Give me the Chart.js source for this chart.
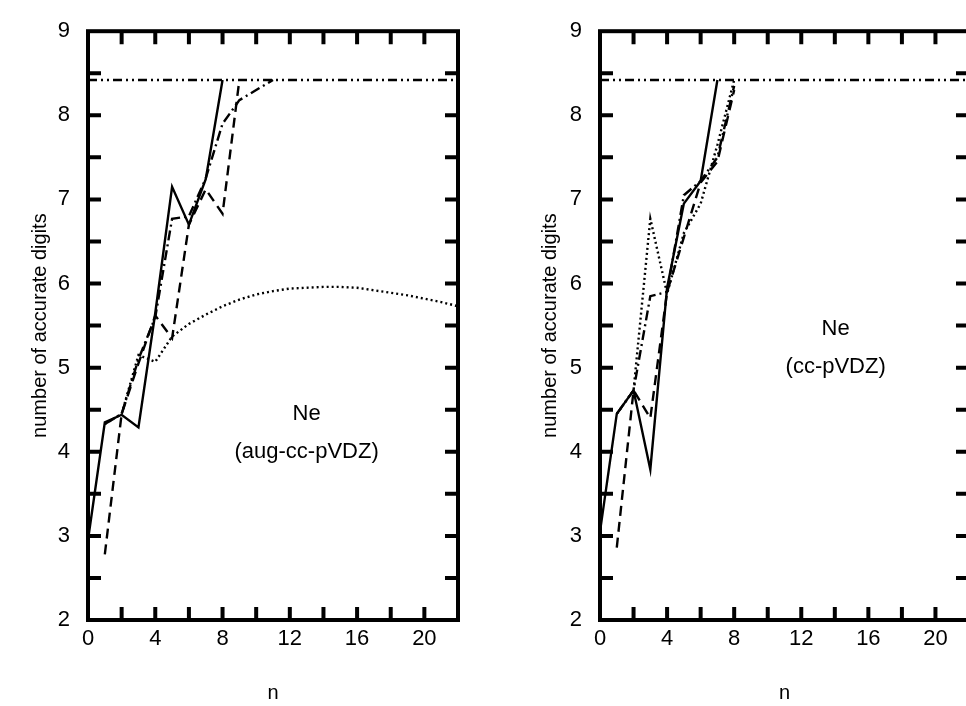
<!DOCTYPE html>
<html>
<head>
<meta charset="utf-8">
<script src="https://cdn.jsdelivr.net/npm/chart.js@4.4.1/dist/chart.umd.min.js"></script>
<style>
html, body { margin: 0; padding: 0; background: #fff; overflow: hidden; width: 966px; height: 706px; }
canvas { position: absolute; top: 0; }
#left { left: 0; }
#right { left: 483px; }
</style>
</head>
<body>
<canvas id="left" width="483" height="706"></canvas>
<canvas id="right" width="500" height="706"></canvas>
<script>
// index of each array = n (0, 1, 2, ...), null = no point
const exactDigits = 8.42;

// aug-cc-pVDZ panel
const augSolid   = [2.95, 4.35, 4.44, 4.29, 5.65, 7.15, 6.7, 7.24, 8.42];
const augDashed  = [null, 2.78, 4.45, 5.05, 5.62, 5.35, 6.7, 7.12, 6.83, 8.42];
const augDashDot = [null, 4.33, 4.45, 5.1, 5.6, 6.77, 6.8, 7.25, 7.9, 8.18, 8.3, 8.42];
const augDotted  = [null, 4.33, 4.45, 5.15, 5.07, 5.37, 5.52, 5.63, 5.73, 5.81, 5.87, 5.91,
                    5.94, 5.95, 5.96, 5.96, 5.95, 5.92, 5.89, 5.86, 5.82, 5.78, 5.73];

// cc-pVDZ panel
const ccSolid   = [3.05, 4.45, 4.73, 3.79, 5.95, 6.95, 7.22, 8.42];
const ccDashed  = [null, 2.86, 4.73, 4.4, 5.9, 6.55, 7.2, 7.45, 8.3];
const ccDashDot = [null, 4.45, 4.73, 5.85, 5.9, 7.05, 7.22, 7.5, 8.35];
const ccDotted  = [null, 4.45, 4.73, 6.77, 5.88, 6.6, 6.95, 7.65, 8.42];

const xTickLabels = ["0", "4", "8", "12", "16", "20"];
const yTickLabels = ["2", "3", "4", "5", "6", "7", "8", "9"];

const FONT = "'Liberation Sans', Arial, Helvetica, sans-serif";

function toPoints(vals) {
  return vals.map((v, n) => ({ x: n, y: v })).filter(p => p.y !== null);
}

function line(points, dash) {
  return {
    data: points,
    borderColor: '#000',
    borderWidth: 2.4,
    borderDash: dash,
    pointRadius: 0,
    tension: 0,
    fill: false
  };
}

// frame + inward ticks on all four sides, and the text inside the plot
const framePlugin = {
  id: 'frame',
  afterDraw(chart, args, opts) {
    const { ctx, chartArea: a, scales: { x, y } } = chart;
    ctx.save();
    ctx.strokeStyle = '#000';
    ctx.lineWidth = 4;
    ctx.strokeRect(a.left, a.top, a.right - a.left, a.bottom - a.top);
    ctx.beginPath();
    for (let v = 2; v <= 20; v += 2) {
      const px = x.getPixelForValue(v);
      ctx.moveTo(px, a.bottom); ctx.lineTo(px, a.bottom - 13);
      ctx.moveTo(px, a.top); ctx.lineTo(px, a.top + 13);
    }
    for (let v = 2.5; v < 9; v += 0.5) {
      const py = y.getPixelForValue(v);
      ctx.moveTo(a.left, py); ctx.lineTo(a.left + 13, py);
      ctx.moveTo(a.right, py); ctx.lineTo(a.right - 13, py);
    }
    ctx.stroke();
    ctx.fillStyle = '#000';
    ctx.font = '22px ' + FONT;
    ctx.textAlign = 'center';
    ctx.textBaseline = 'middle';
    ctx.fillText('Ne', x.getPixelForValue(opts.at[0]), y.getPixelForValue(opts.at[1]));
    ctx.fillText(opts.basis, x.getPixelForValue(opts.at[0]), y.getPixelForValue(opts.at[1] - 0.45));
    ctx.restore();
  }
};

function makeChart(id, series, basis, at, padRight, yWidth, yTitlePad) {
  const sets = [
    line(toPoints(series[0]), []),
    line(toPoints(series[1]), [10, 6]),
    line(toPoints(series[2]), [10, 4, 2, 4]),
    line(toPoints(series[3]), [2, 3]),
    line([{ x: 0, y: exactDigits }, { x: 22, y: exactDigits }], [9, 4, 2, 4, 2, 4])
  ];
  return new Chart(document.getElementById(id), {
    type: 'line',
    data: { datasets: sets },
    options: {
      responsive: false,
      animation: false,
      devicePixelRatio: 1,
      layout: { padding: { top: 21, right: padRight, left: 0, bottom: 0 } },
      plugins: {
        legend: { display: false },
        tooltip: { enabled: false },
        frame: { basis: basis, at: at }
      },
      scales: {
        x: {
          type: 'linear', min: 0, max: 22,
          afterFit: s => { s.height = 86; },
          grid: { display: false, drawTicks: false },
          border: { display: false },
          ticks: {
            stepSize: 2, autoSkip: false, maxRotation: 0, padding: 6, color: '#000',
            font: { family: FONT, size: 22 },
            callback: v => xTickLabels.includes(String(v)) ? String(v) : ''
          },
          title: { display: true, text: 'n', color: '#000', font: { family: FONT, size: 20 }, padding: { top: 0, bottom: 1 } }
        },
        y: {
          type: 'linear', min: 2, max: 9,
          afterFit: s => { s.width = yWidth; },
          grid: { display: false, drawTicks: false },
          border: { display: false },
          ticks: {
            stepSize: 0.5, autoSkip: false, padding: 18, color: '#000',
            font: { family: FONT, size: 22 },
            callback: v => yTickLabels.includes(String(v)) ? String(v) : ''
          },
          title: { display: true, text: 'number of accurate digits', color: '#000', font: { family: FONT, size: 20 }, padding: { top: yTitlePad, bottom: 0 } }
        }
      }
    },
    plugins: [framePlugin]
  });
}

makeChart('left', [augSolid, augDashed, augDashDot, augDotted], '(aug-cc-pVDZ)', [13, 4.45], 25, 88, 28);
makeChart('right', [ccSolid, ccDashed, ccDashDot, ccDotted], '(cc-pVDZ)', [14.05, 5.46], 14, 117, 55);
</script>
</body>
</html>
